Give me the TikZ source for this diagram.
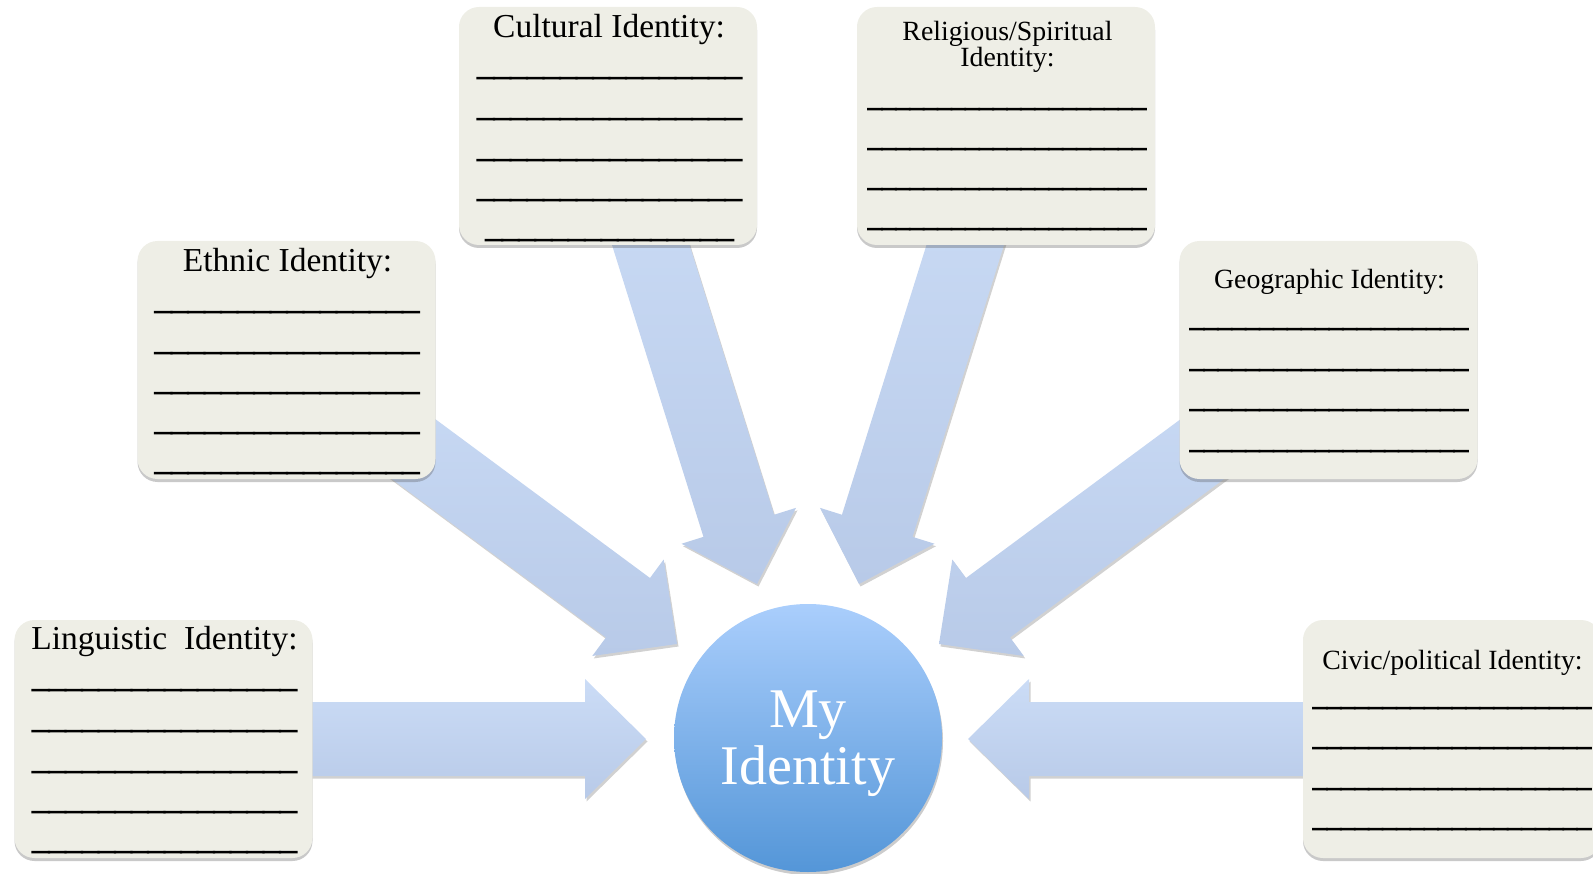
\documentclass[tikz,border=0pt]{standalone}
\usepackage{fontspec}
\setmainfont{Liberation Serif}
\newfontfamily\blankfont[FakeBold=5]{Liberation Serif}
\usetikzlibrary{calc,shadows}
\definecolor{boxfill}{RGB}{238,238,230}
\definecolor{arrtop}{RGB}{203,220,246}
\definecolor{arrbot}{RGB}{184,202,232}
\definecolor{circtop}{RGB}{170,206,252}
\definecolor{circbot}{RGB}{84,150,216}
\newcommand\blanksA{\scalebox{1.375}[1]{\_\_\_\_\_\_\_\_\_\_\_\_\_\_\_\_}}
\newcommand\blanksAs{\scalebox{1.375}[1]{\_\_\_\_\_\_\_\_\_\_\_\_\_\_\_}}
\newcommand\blanksB{\scalebox{1.158}[1]{\_\_\_\_\_\_\_\_\_\_\_\_\_\_\_\_\_\_\_\_}}
\newcommand\IdArrow[3]{%
  \coordinate (#3b) at ($(#2)!61pt!(#1)$);
  \path[arrowst] ($(#1)!37pt!90:(#2)$) -- ($(#3b)!37pt!90:(#2)$) -- ($(#3b)!60pt!90:(#2)$)
    -- (#2) -- ($(#3b)!60pt!-90:(#2)$) -- ($(#3b)!37pt!-90:(#2)$) -- ($(#1)!37pt!-90:(#2)$) -- cycle;
}
\tikzset{
  arrowst/.style={top color=arrtop, bottom color=arrbot,
    drop shadow={shadow xshift=1.5pt, shadow yshift=-2.5pt, opacity=.18, fill=black}},
  boxst/.style={rounded corners=20pt, fill=boxfill, minimum width=298pt, minimum height=238pt,
    inner sep=0pt, draw=none,
    drop shadow={shadow xshift=0pt, shadow yshift=-3pt, opacity=.3, fill=black!70}},
  ttlA/.style={font=\fontsize{33.5}{40}\selectfont, anchor=base, inner sep=0pt},
  ttlB/.style={font=\fontsize{27.8}{26}\selectfont, anchor=base, inner sep=0pt, align=center},
  lnA/.style={font=\blankfont\fontsize{24}{26}\selectfont, anchor=base, inner sep=0pt, yshift=2.4pt},
  lnB/.style={font=\blankfont\fontsize{24}{26}\selectfont, anchor=base, inner sep=0pt, yshift=2.4pt},
  circst/.style={circle, minimum size=268pt, inner sep=0pt, top color=circtop, bottom color=circbot,
    drop shadow={shadow xshift=1pt, shadow yshift=-3pt, opacity=.2, fill=black}},
  metxt/.style={font=\fontsize{56}{57}\selectfont, text=white, align=center, inner sep=0pt},
}
\begin{document}
\begin{tikzpicture}[x=1pt,y=-1pt]
\useasboundingbox (0,0) rectangle (1593,874);
% arrow ends
\coordinate (tailCult) at (621,150);
\coordinate (tipCult) at (757,584);
\coordinate (tailRel) at (995,150);
\coordinate (tipRel) at (859,584);
\coordinate (tailEth) at (300,365);
\coordinate (tipEth) at (677,644);
\coordinate (tailGeo) at (1316,365);
\coordinate (tipGeo) at (939,644);
\coordinate (tailLing) at (164,739);
\coordinate (tipLing) at (646,739);
\coordinate (tailCiv) at (1452,739);
\coordinate (tipCiv) at (968,739);
% arrows
\IdArrow{tailCult}{tipCult}{aC}
\IdArrow{tailRel}{tipRel}{aR}
\IdArrow{tailEth}{tipEth}{aE}
\IdArrow{tailGeo}{tipGeo}{aG}
\IdArrow{tailLing}{tipLing}{aL}
\IdArrow{tailCiv}{tipCiv}{aV}
% boxes
\node[boxst] (cult) at (608,126) {};
\node[boxst] (relig) at (1006,126) {};
\node[boxst] (ethn) at (286.5,360) {};
\node[boxst] (geo) at (1328.5,360) {};
\node[boxst] (ling) at (163.5,739) {};
\node[boxst] (civic) at (1452,739) {};
% centre
\node[circst] (me) at (808,738) {};
\node[metxt] (metext) at (808,744) {My\\Identity};
% Cultural
\node[ttlA] (cultT) at (609,38) {Cultural Identity:};
\node[lnA] (cult1) at (609.5,78) {\blanksA};
\node[lnA] (cult2) at (609.5,119) {\blanksA};
\node[lnA] (cult3) at (609.5,160) {\blanksA};
\node[lnA] (cult4) at (609.5,200) {\blanksA};
\node[lnA] (cult5) at (609.5,240) {\blanksAs};
% Religious
\node[ttlB] (religT) at (1007.5,67) {Religious/Spiritual\\Identity:};
\node[lnB] (relig1) at (1007,109) {\blanksB};
\node[lnB] (relig2) at (1007,149) {\blanksB};
\node[lnB] (relig3) at (1007,189) {\blanksB};
\node[lnB] (relig4) at (1007,229) {\blanksB};
% Ethnic
\node[ttlA] (ethnT) at (287.5,272) {Ethnic Identity:};
\node[lnA] (ethn1) at (287,312) {\blanksA};
\node[lnA] (ethn2) at (287,353) {\blanksA};
\node[lnA] (ethn3) at (287,393) {\blanksA};
\node[lnA] (ethn4) at (287,433) {\blanksA};
\node[lnA] (ethn5) at (287,473) {\blanksA};
% Geographic
\node[ttlB] (geoT) at (1329.5,289) {Geographic Identity:};
\node[lnB] (geo1) at (1329,329) {\blanksB};
\node[lnB] (geo2) at (1329,370) {\blanksB};
\node[lnB] (geo3) at (1329,410) {\blanksB};
\node[lnB] (geo4) at (1329,451) {\blanksB};
% Linguistic
\node[ttlA] (lingT) at (164.5,649) {Linguistic\ \ Identity:};
\node[lnA] (ling1) at (164.5,690) {\blanksA};
\node[lnA] (ling2) at (164.5,731) {\blanksA};
\node[lnA] (ling3) at (164.5,772) {\blanksA};
\node[lnA] (ling4) at (164.5,812) {\blanksA};
\node[lnA] (ling5) at (164.5,852) {\blanksA};
% Civic
\node[ttlB] (civicT) at (1452.5,669) {Civic/political Identity:};
\node[lnB] (civic1) at (1452,708) {\blanksB};
\node[lnB] (civic2) at (1452,748) {\blanksB};
\node[lnB] (civic3) at (1452,789) {\blanksB};
\node[lnB] (civic4) at (1452,829) {\blanksB};
\end{tikzpicture}
\end{document}
